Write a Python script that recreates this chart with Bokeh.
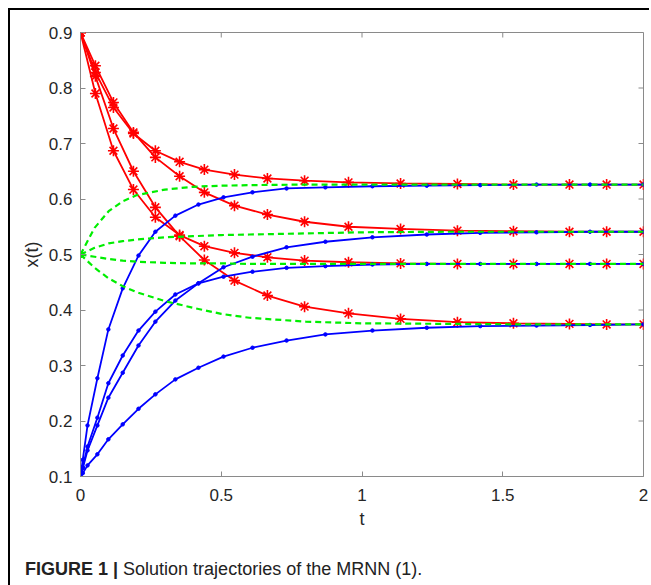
import math
from bokeh.plotting import figure
from bokeh.models import Range1d, FixedTicker, Div
from bokeh.layouts import column
from bokeh.embed import file_html
from bokeh.resources import INLINE

# ---- data ----
x_ticks = [0, 0.5, 1, 1.5, 2]
y_ticks = [0.1, 0.2, 0.3, 0.4, 0.5, 0.6, 0.7, 0.8, 0.9]

t_red = [0, 0.053, 0.117, 0.188, 0.266, 0.352, 0.44, 0.547, 0.664, 0.796, 0.952,
         1.137, 1.339, 1.538, 1.737, 1.869, 2.0]
red_1 = [0.9, 0.828, 0.765, 0.718, 0.687, 0.667, 0.653, 0.644, 0.637, 0.633, 0.630,
         0.628, 0.627, 0.626, 0.626, 0.626, 0.626]
red_2 = [0.9, 0.840, 0.774, 0.720, 0.675, 0.641, 0.612, 0.588, 0.572, 0.559, 0.550,
         0.546, 0.543, 0.542, 0.541, 0.541, 0.541]
red_3 = [0.9, 0.790, 0.687, 0.617, 0.567, 0.535, 0.515, 0.503, 0.495, 0.489, 0.486,
         0.484, 0.483, 0.483, 0.483, 0.483, 0.483]
red_4 = [0.9, 0.821, 0.727, 0.650, 0.585, 0.533, 0.490, 0.453, 0.426, 0.406, 0.394,
         0.384, 0.378, 0.376, 0.375, 0.374, 0.374]

t_blue = [0, 0.008, 0.025, 0.060, 0.099, 0.150, 0.206, 0.266, 0.337, 0.419, 0.508,
          0.611, 0.732, 0.870, 1.037, 1.23, 1.42, 1.62, 1.81, 2.0]
blue_1 = [0.1, 0.130, 0.192, 0.277, 0.365, 0.439, 0.498, 0.541, 0.570, 0.590, 0.603,
          0.612, 0.619, 0.621, 0.623, 0.624, 0.625, 0.626, 0.626, 0.626]
blue_2 = [0.1, 0.115, 0.147, 0.192, 0.242, 0.287, 0.336, 0.379, 0.417, 0.448, 0.477,
          0.496, 0.513, 0.523, 0.531, 0.536, 0.539, 0.540, 0.541, 0.541]
blue_3 = [0.1, 0.117, 0.154, 0.206, 0.268, 0.318, 0.363, 0.397, 0.428, 0.448, 0.460,
          0.469, 0.476, 0.479, 0.482, 0.483, 0.483, 0.483, 0.483, 0.483]
blue_4 = [0.1, 0.106, 0.120, 0.140, 0.167, 0.194, 0.222, 0.248, 0.275, 0.296, 0.316,
          0.332, 0.345, 0.356, 0.363, 0.368, 0.371, 0.372, 0.373, 0.374]

t_green = [0, 0.05, 0.1, 0.15, 0.2, 0.3, 0.4, 0.5, 0.6, 0.8, 1.0, 1.3, 1.6, 2.0]
green_1 = [0.5, 0.548, 0.578, 0.596, 0.607, 0.617, 0.622, 0.624, 0.625, 0.626, 0.626,
           0.626, 0.626, 0.626]
green_2 = [0.5, 0.512, 0.520, 0.524, 0.527, 0.531, 0.533, 0.535, 0.536, 0.538, 0.540,
           0.541, 0.541, 0.541]
green_3 = [0.5, 0.496, 0.492, 0.489, 0.487, 0.485, 0.484, 0.484, 0.483, 0.483, 0.483,
           0.483, 0.483, 0.483]
green_4 = [0.5, 0.476, 0.457, 0.443, 0.432, 0.416, 0.404, 0.393, 0.386, 0.379, 0.376,
           0.375, 0.374, 0.374]

caption_bold = "FIGURE 1 |"
caption_text = "Solution trajectories of the MRNN (1)."

# ---- figure ----
FONT = "Liberation Sans"
AX = "#8a8a8a"
TXT = "#262626"

p = figure(width=639, height=540, x_range=Range1d(0, 2), y_range=Range1d(0.1, 0.9),
           output_backend="svg", toolbar_location=None,
           min_border_left=70, min_border_top=22, min_border_right=6, min_border_bottom=74,
           x_axis_label="t", y_axis_label="x(t)")
p.xgrid.grid_line_color = None
p.ygrid.grid_line_color = None
p.outline_line_color = AX
p.outline_line_width = 1
p.background_fill_color = "white"
p.border_fill_color = "white"

p.xaxis.ticker = FixedTicker(ticks=x_ticks)
p.yaxis.ticker = FixedTicker(ticks=y_ticks)
for ax in (p.xaxis[0], p.yaxis[0]):
    ax.axis_line_color = AX
    ax.major_tick_line_color = AX
    ax.major_tick_in = 5
    ax.major_tick_out = 0
    ax.minor_tick_line_color = None
    ax.major_label_text_font = FONT
    ax.major_label_text_font_size = "17px"
    ax.major_label_text_color = TXT
    ax.axis_label_text_font = FONT
    ax.axis_label_text_font_size = "18px"
    ax.axis_label_text_font_style = "normal"
    ax.axis_label_text_color = TXT
p.xaxis.major_label_standoff = 12
p.xaxis.axis_label_standoff = 5
p.yaxis.major_label_standoff = 8
p.yaxis.axis_label_standoff = 4

# inward ticks on the top and right edges of the box
p.ray(x=x_ticks, y=[p.y_range.end] * len(x_ticks), length=5, length_units="screen",
      angle=-math.pi / 2, line_color=AX, line_width=1)
p.ray(x=[p.x_range.end] * len(y_ticks), y=y_ticks, length=5, length_units="screen",
      angle=math.pi, line_color=AX, line_width=1)

# red: solid with asterisks
for ys in (red_1, red_2, red_3, red_4):
    p.line(t_red, ys, line_color="#ff0000", line_width=1.8)
    p.scatter(t_red, ys, marker="asterisk", size=11, line_color="#ff0000", line_width=1.6)

# blue: solid with dots
for ys in (blue_1, blue_2, blue_3, blue_4):
    p.line(t_blue, ys, line_color="#0000ff", line_width=1.8)
    p.scatter(t_blue, ys, marker="circle", size=3.5, fill_color="#0000ff", line_color="#0000ff")

# green: dashed
for ys in (green_1, green_2, green_3, green_4):
    p.line(t_green, ys, line_color="#00ee00", line_width=2.2, line_dash="6 4")
p.scatter([t_green[0]] * 4, [g[0] for g in (green_1, green_2, green_3, green_4)],
          marker="circle", size=6, fill_color="#00ee00", line_color="#00ee00")

cap = Div(text=f"<b>{caption_bold}</b> {caption_text}", width=620, height=28,
          styles={"font-family": "Liberation Sans, Arial, sans-serif", "font-size": "18px",
                  "color": "#222222", "padding-left": "10px", "padding-top": "2px"})

layout = column(p, cap, spacing=0, margin=(8, 0, 0, 8),
                styles={"border-left": "2px solid #000000", "border-top": "2px solid #000000"})

open("out.html", "w").write(file_html(layout, INLINE))
